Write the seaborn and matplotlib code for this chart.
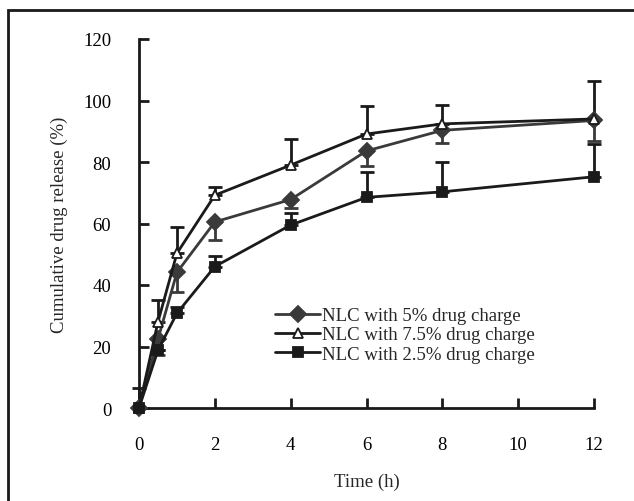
import matplotlib
matplotlib.use('Agg')
import matplotlib.pyplot as plt
import seaborn as sns
import pandas as pd
from matplotlib.lines import Line2D

time_h = [0, 0.5, 1, 2, 4, 6, 8, 12]

rel_5 = [0, 22.4, 44.1, 60.5, 67.8, 83.6, 90.3, 93.5]
rel_75 = [0, 28.0, 50.3, 69.2, 79.0, 89.1, 92.4, 94.0]
rel_25 = [0, 18.8, 30.8, 46.0, 59.5, 68.5, 70.3, 75.2]

# one-sided error bars (lower, upper)
err_5_lo = [0, 5.2, 6.3, 6.0, 2.6, 4.8, 4.2, 6.6]
err_5_hi = [0, 0, 0, 0, 0, 0, 0, 0]
err_75_lo = [0, 0, 0, 0, 0, 0, 0, 0]
err_75_hi = [0, 7.0, 8.5, 2.7, 8.5, 9.1, 6.2, 12.4]
err_25_lo = [0, 0, 0, 0, 0, 0, 0, 0]
err_25_hi = [6.6, 0, 2.0, 3.5, 4.0, 8.3, 9.6, 10.8]

labels = ['NLC with 5% drug charge', 'NLC with 7.5% drug charge', 'NLC with 2.5% drug charge']

sns.set_style('ticks')
plt.rcParams['font.family'] = ['Liberation Serif', 'DejaVu Serif']

fig = plt.figure(figsize=(6.34, 5.02), dpi=100)
ax = fig.add_axes([139 / 634, 1 - 409 / 502, (594 - 139) / 634, (409 - 40) / 502])

series = [
    (rel_5, err_5_lo, err_5_hi, 'D', '#3a3a3a', '#3a3a3a', 8.5, labels[0]),
    (rel_75, err_75_lo, err_75_hi, '^', '#1a1a1a', 'white', 7.5, labels[1]),
    (rel_25, err_25_lo, err_25_hi, 's', '#1a1a1a', '#1a1a1a', 6.5, labels[2]),
]

handles = []
for vals, lo, hi, mk, col, face, ms, lab in series:
    eb = ax.errorbar(time_h, vals, yerr=[lo, hi], fmt='none', ecolor=col,
                     elinewidth=2, capsize=5, capthick=2, zorder=2)
    for art in eb.lines[1] + eb.lines[2]:
        art.set_clip_on(False)
    sns.lineplot(x=time_h, y=vals, ax=ax, color=col, linewidth=2,
                 marker=mk, markersize=ms, markerfacecolor=face,
                 markeredgecolor=col, markeredgewidth=1.3, zorder=3, clip_on=False)
    handles.append(Line2D([], [], color=col, linewidth=2, marker=mk, markersize=ms,
                          markerfacecolor=face, markeredgecolor=col, markeredgewidth=1.3))

ax.set_xlim(0, 12)
ax.set_ylim(0, 120)
ax.set_xticks([0, 2, 4, 6, 8, 10, 12])
ax.set_yticks([0, 20, 40, 60, 80, 100, 120])
ax.tick_params(direction='in', length=7, width=2, colors='#1a1a1a', labelcolor='black',
               labelsize=13.5)
ax.tick_params(axis='y', pad=20)
ax.tick_params(axis='x', pad=20)
for s in ['left', 'bottom']:
    ax.spines[s].set_linewidth(2)
    ax.spines[s].set_color('#1a1a1a')
sns.despine(ax=ax)

ax.set_xlabel('Time (h)', fontsize=13.5, labelpad=14)
ax.set_ylabel('Cumulative drug release (%)', fontsize=13.5, labelpad=11)

ax.legend(handles, labels, loc='upper left', bbox_to_anchor=((275 - 139) / 455, 1 - (308 - 40) / 369),
          frameon=False, fontsize=13.5, handlelength=2.4, handletextpad=0.1,
          labelspacing=0.12, borderpad=0, borderaxespad=0)

# outer frame
fig.patches.append(plt.Rectangle((8 / 634, -0.1), 1.2, 1 - 11 / 502 + 0.1,
                                 transform=fig.transFigure, fill=False,
                                 edgecolor='#1a1a1a', linewidth=2))

fig.savefig('out.png', dpi=100)
